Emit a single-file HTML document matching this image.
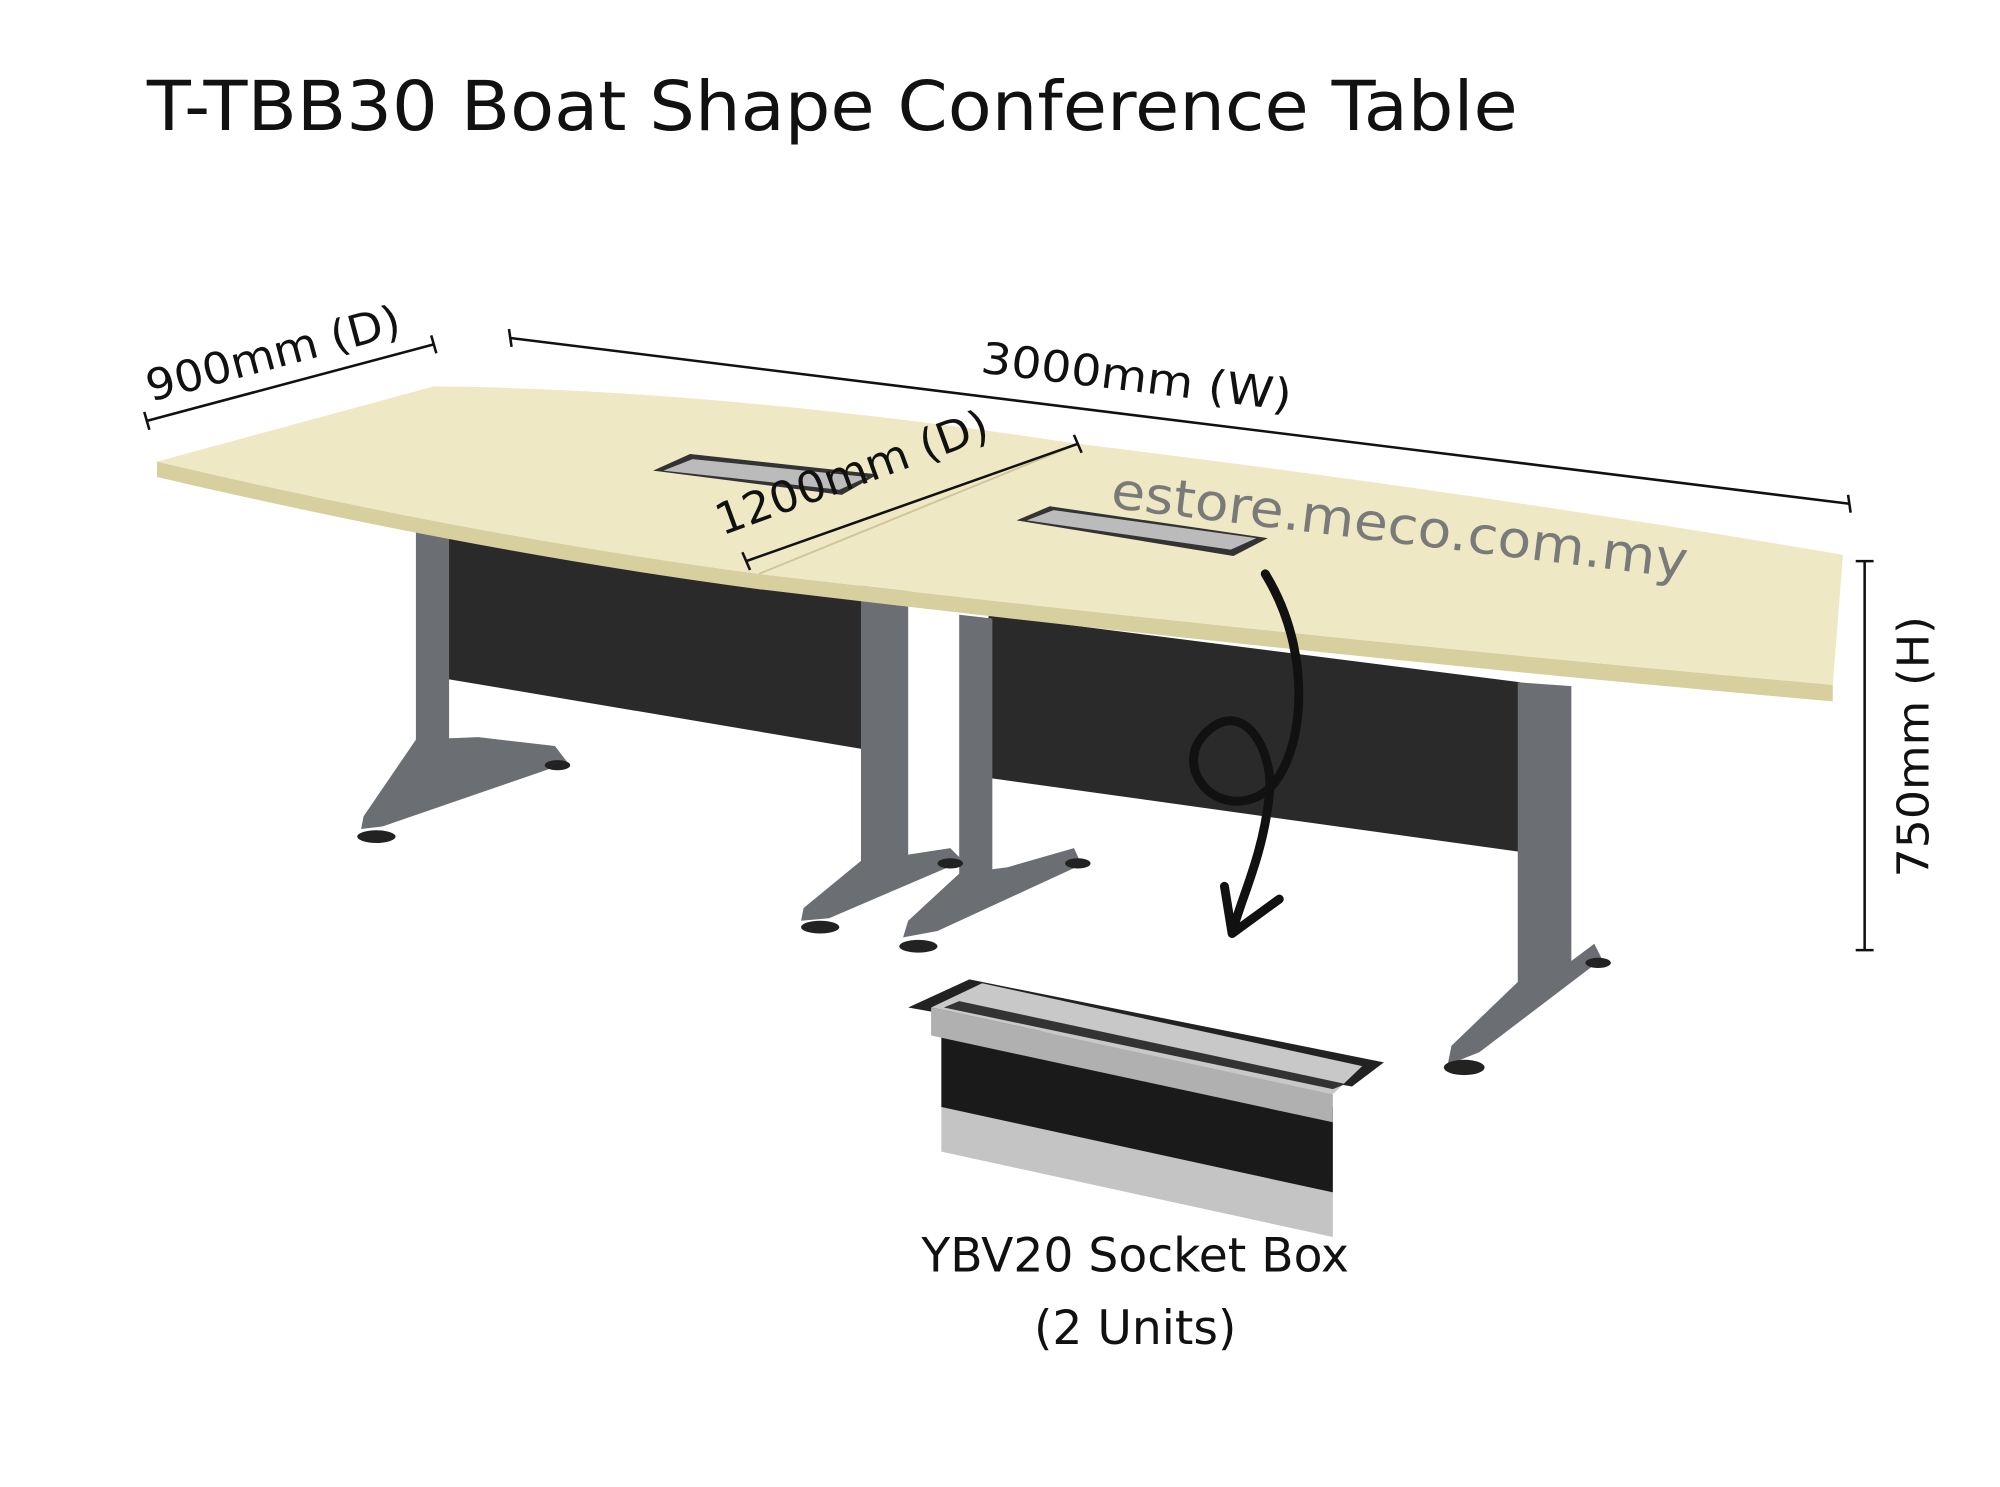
<!DOCTYPE html>
<html><head><meta charset="utf-8"><style>
html,body{margin:0;padding:0;background:#fff;}
svg{display:block}
text{font-family:"DejaVu Sans","Liberation Sans",sans-serif;}
</style></head><body>
<svg width="2000" height="1487" viewBox="0 0 1568 1166" xmlns="http://www.w3.org/2000/svg">
<rect width="1568" height="1166" fill="#fff"/>
<text x="115" y="102" font-size="54" fill="#111" textLength="1075" lengthAdjust="spacingAndGlyphs">T-TBB30 Boat Shape Conference Table</text>

<polygon points="348,418 680,462 680,588 348,532" fill="#2a2a2a"/>
<polygon points="775,482 1192,535 1192,668 775,610" fill="#2a2a2a"/>

<g fill="#6b6e72">
<polygon points="326,412 352,414 352,590 326,600"/>
<polygon points="326,580 375,578 435,585 445,598 300,648 283,650 285,640"/>
<polygon points="675,455 712,460 712,680 675,690"/>
<polygon points="675,675 700,672 745,665 755,675 650,720 628,722 630,712"/>
<polygon points="752,482 778,485 778,690 752,700"/>
<polygon points="752,685 790,680 842,665 848,678 735,730 708,735 712,722"/>
<polygon points="1190,535 1232,538 1232,760 1190,790"/>
<polygon points="1190,770 1230,755 1250,740 1256,752 1160,825 1135,835 1138,820"/>
</g>
<g fill="#222">
<ellipse cx="295" cy="656" rx="15" ry="5"/><ellipse cx="437" cy="600" rx="10" ry="4"/>
<ellipse cx="643" cy="727" rx="15" ry="5"/><ellipse cx="745" cy="677" rx="10" ry="4"/>
<ellipse cx="720" cy="742" rx="15" ry="5"/><ellipse cx="845" cy="677" rx="10" ry="4"/>
<ellipse cx="1148" cy="837" rx="16" ry="6"/><ellipse cx="1253" cy="755" rx="10" ry="4"/>
</g>

<path d="M123,362 Q370,420 595,450 Q1020,500 1437,537 L1437,550 Q1020,513 595,462 Q370,432 123,374 Z" fill="#d8cf9e"/>
<path d="M123,362 L340,303 Q560,305 845,348 Q1150,385 1445,435 L1437,537 Q1020,500 595,450 Q370,420 123,362 Z" fill="#eee8c4"/>
<line x1="595" y1="450" x2="845" y2="348" stroke="#cfc59a" stroke-width="1.5"/>
<polygon points="512,369 541,356 688,372 660,388" fill="#333"/>
<polygon points="520,369 543,360 680,374 658,384" fill="#bbb"/>
<polygon points="797,408 823,397 994,422 967,436" fill="#333"/>
<polygon points="805,408 826,400 985,422 965,431" fill="#bbb"/>

<text x="870" y="398" font-size="40" fill="#7a7a7a" transform="rotate(7 870 398)" textLength="455" lengthAdjust="spacingAndGlyphs">estore.meco.com.my</text>

<g stroke="#111" stroke-width="2">
<line x1="115" y1="330" x2="340" y2="270"/><line x1="113" y1="323" x2="117" y2="337"/><line x1="338" y1="263" x2="342" y2="277"/>
<line x1="400" y1="265" x2="1450" y2="395"/><line x1="399" y1="258" x2="401" y2="272"/><line x1="1449" y1="388" x2="1451" y2="402"/>
<line x1="585" y1="440" x2="845" y2="348"/><line x1="582" y1="433" x2="588" y2="447"/><line x1="842" y1="341" x2="848" y2="355"/>
<line x1="1462" y1="440" x2="1462" y2="745"/><line x1="1455" y1="440" x2="1469" y2="440"/><line x1="1455" y1="745" x2="1469" y2="745"/>
</g>
<text x="118" y="315" font-size="34" fill="#111" transform="rotate(-15 118 315)" textLength="205" lengthAdjust="spacingAndGlyphs">900mm (D)</text>
<text x="768" y="292" font-size="34" fill="#111" transform="rotate(7 768 292)" textLength="245" lengthAdjust="spacingAndGlyphs">3000mm (W)</text>
<text x="566" y="420" font-size="34" fill="#111" transform="rotate(-20 566 420)" textLength="225" lengthAdjust="spacingAndGlyphs">1200mm (D)</text>
<text x="1512" y="688" font-size="34" fill="#111" transform="rotate(-90 1512 688)" textLength="205" lengthAdjust="spacingAndGlyphs">750mm (H)</text>

<path d="M992,450 C1035,520 1020,610 985,625 C950,640 920,600 945,575 C975,545 1000,590 995,625 C990,670 975,700 967,728" fill="none" stroke="#111" stroke-width="7" stroke-linecap="round"/>
<path d="M960,695 L966,732 L1003,705" fill="none" stroke="#111" stroke-width="7" stroke-linecap="round" stroke-linejoin="round"/>

<polygon points="738,868 1045,935 1045,970 738,903" fill="#c4c4c4"/>
<polygon points="738,800 1045,868 1045,935 738,868" fill="#1a1a1a"/>
<polygon points="712,790 760,768 1085,833 1060,852" fill="#222"/>
<polygon points="730,790 770,771 1068,836 1045,858" fill="#c8c8c8"/>
<polygon points="740,790 752,785 1055,850 1045,854" fill="#333"/>
<polygon points="730,790 1045,858 1045,880 730,812" fill="#b0b0b0"/>

<text x="890" y="997" font-size="37" fill="#111" text-anchor="middle">YBV20 Socket Box</text>
<text x="890" y="1054" font-size="37" fill="#111" text-anchor="middle">(2 Units)</text>
</svg>
</body></html>
